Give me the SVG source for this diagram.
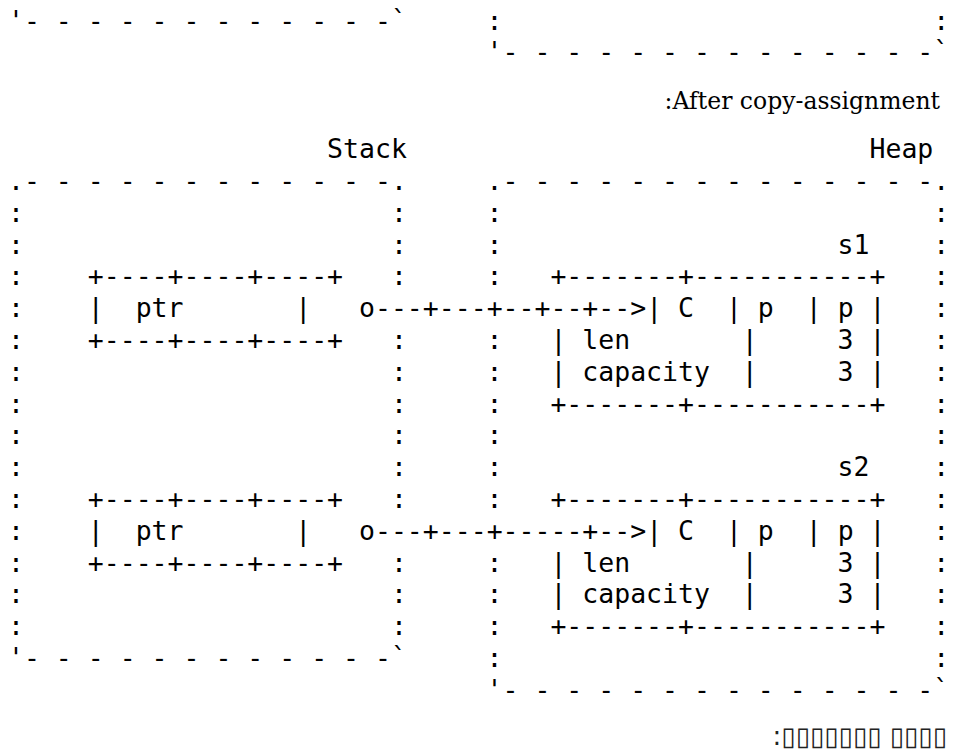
<svg xmlns="http://www.w3.org/2000/svg" width="956" height="750" viewBox="0 0 956 750">
  <style>
    text { white-space: pre; fill: #000; }
    .m { font-family: "DejaVu Sans Mono", monospace; font-size: 26.5px; }
    .cap { font-family: "DejaVu Serif", serif; font-size: 23.5px; }
    .note { font-family: "DejaVu Sans", sans-serif; font-size: 26px; fill: #222; }
  </style>
  <rect width="956" height="750" fill="#fff"/>

  <!-- Tail of the previous figure -->
  <g id="previous-figure" class="m" xml:space="preserve">
    <text x="8" y="29.5">'- - - - - - - - - - - -`</text>
    <text x="486.6" y="29.5">:</text>
    <text x="933.3" y="29.5">:</text>
    <text x="486.6" y="61.3">'- - - - - - - - - - - - - -`</text>
  </g>

  <text class="cap" x="940" y="109" text-anchor="end">:After copy-assignment</text>

  <!-- Stack frame: columns 0..24, one row every 31.8px -->
  <g id="stack" class="m" xml:space="preserve">
    <text x="327.1" y="158.2">Stack</text>
    <text x="8" y="190">.- - - - - - - - - - - -.</text>
    <!-- left side, column 0 -->
    <text x="8" y="221.8">:</text>
    <text x="8" y="253.6">:</text>
    <text x="8" y="285.4">:</text>
    <text x="8" y="317.2">:</text>
    <text x="8" y="349">:</text>
    <text x="8" y="380.8">:</text>
    <text x="8" y="412.6">:</text>
    <text x="8" y="444.4">:</text>
    <text x="8" y="476.2">:</text>
    <text x="8" y="508">:</text>
    <text x="8" y="539.8">:</text>
    <text x="8" y="571.6">:</text>
    <text x="8" y="603.4">:</text>
    <text x="8" y="635.2">:</text>
    <!-- right side, column 24 (the pointer rows cross it) -->
    <text x="390.9" y="221.8">:</text>
    <text x="390.9" y="253.6">:</text>
    <text x="390.9" y="285.4">:</text>
    <text x="390.9" y="349">:</text>
    <text x="390.9" y="380.8">:</text>
    <text x="390.9" y="412.6">:</text>
    <text x="390.9" y="444.4">:</text>
    <text x="390.9" y="476.2">:</text>
    <text x="390.9" y="508">:</text>
    <text x="390.9" y="571.6">:</text>
    <text x="390.9" y="603.4">:</text>
    <text x="390.9" y="635.2">:</text>
    <text x="8" y="667">'- - - - - - - - - - - -`</text>
  </g>

  <!-- Heap frame: columns 30..58 -->
  <g id="heap" class="m" xml:space="preserve">
    <text x="869.5" y="158.2">Heap</text>
    <text x="486.6" y="190">.- - - - - - - - - - - - - -.</text>
    <!-- left side, column 30 (the pointer rows cross it) -->
    <text x="486.6" y="221.8">:</text>
    <text x="486.6" y="253.6">:</text>
    <text x="486.6" y="285.4">:</text>
    <text x="486.6" y="349">:</text>
    <text x="486.6" y="380.8">:</text>
    <text x="486.6" y="412.6">:</text>
    <text x="486.6" y="444.4">:</text>
    <text x="486.6" y="476.2">:</text>
    <text x="486.6" y="508">:</text>
    <text x="486.6" y="571.6">:</text>
    <text x="486.6" y="603.4">:</text>
    <text x="486.6" y="635.2">:</text>
    <text x="486.6" y="667">:</text>
    <!-- right side, column 58 -->
    <text x="933.3" y="221.8">:</text>
    <text x="933.3" y="253.6">:</text>
    <text x="933.3" y="285.4">:</text>
    <text x="933.3" y="317.2">:</text>
    <text x="933.3" y="349">:</text>
    <text x="933.3" y="380.8">:</text>
    <text x="933.3" y="412.6">:</text>
    <text x="933.3" y="444.4">:</text>
    <text x="933.3" y="476.2">:</text>
    <text x="933.3" y="508">:</text>
    <text x="933.3" y="539.8">:</text>
    <text x="933.3" y="571.6">:</text>
    <text x="933.3" y="603.4">:</text>
    <text x="933.3" y="635.2">:</text>
    <text x="933.3" y="667">:</text>
    <text x="486.6" y="698.8">'- - - - - - - - - - - - - -`</text>
  </g>

  <!-- s1 on the stack -->
  <g id="s1-ptr" class="m" xml:space="preserve">
    <text x="87.8" y="285.4">+----+----+----+</text>
    <text x="87.8" y="317.2">|  ptr       |</text>
    <text x="87.8" y="349">+----+----+----+</text>
  </g>

  <!-- s2 on the stack -->
  <g id="s2-ptr" class="m" xml:space="preserve">
    <text x="87.8" y="508">+----+----+----+</text>
    <text x="87.8" y="539.8">|  ptr       |</text>
    <text x="87.8" y="571.6">+----+----+----+</text>
  </g>

  <!-- s1 buffer on the heap -->
  <g id="s1-buf" class="m" xml:space="preserve">
    <text x="837.6" y="253.6">s1</text>
    <text x="550.4" y="285.4">+-------+-----------+</text>
    <text x="646.2" y="317.2">| C  | p  | p |</text>
    <text x="550.4" y="349">| len       |     3 |</text>
    <text x="550.4" y="380.8">| capacity  |     3 |</text>
    <text x="550.4" y="412.6">+-------+-----------+</text>
  </g>

  <!-- s2 buffer on the heap -->
  <g id="s2-buf" class="m" xml:space="preserve">
    <text x="837.6" y="476.2">s2</text>
    <text x="550.4" y="508">+-------+-----------+</text>
    <text x="646.2" y="539.8">| C  | p  | p |</text>
    <text x="550.4" y="571.6">| len       |     3 |</text>
    <text x="550.4" y="603.4">| capacity  |     3 |</text>
    <text x="550.4" y="635.2">+-------+-----------+</text>
  </g>

  <!-- Pointers from the stack into the heap -->
  <g id="connectors" class="m" xml:space="preserve">
    <text x="359" y="317.2">o---+---+--+--+--&gt;</text>
    <text x="359" y="539.8">o---+---+-----+--&gt;</text>
  </g>

  <text class="note" x="947" y="745" text-anchor="end">:▯▯▯▯▯▯▯ ▯▯▯▯</text>
</svg>
